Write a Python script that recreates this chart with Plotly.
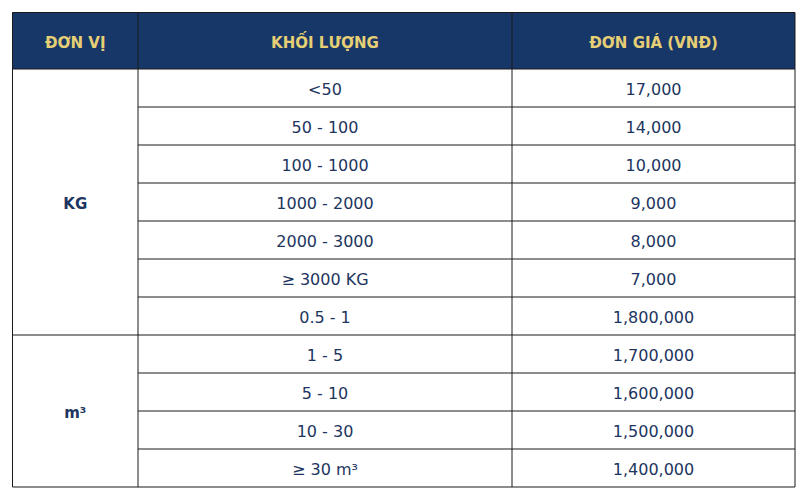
import plotly.graph_objects as go

# table content
headers = ["ĐƠN VỊ", "KHỐI LƯỢNG", "ĐƠN GIÁ (VNĐ)"]
units = ["KG", "m³"]
unit_rows = [7, 4]
weights = ["<50", "50 - 100", "100 - 1000", "1000 - 2000", "2000 - 3000",
           "≥ 3000 KG", "0.5 - 1", "1 - 5", "5 - 10", "10 - 30", "≥ 30 m³"]
prices = [17000, 14000, 10000, 9000, 8000, 7000,
          1800000, 1700000, 1600000, 1500000, 1400000]

# geometry in pixels
W, H = 806, 500
off = 8  # page body margin
col_edges = [12.5, 138, 512, 795]
top = 12.5
head_h = 56.5
row_h = 38
dy = 3  # nudge text down to sit like the original

navy = "#173768"
gold = "#e6cf74"
ink = "#1d3560"
border = "#1a1a1a"
font = "Verdana, DejaVu Sans, sans-serif"

body_top = top + head_h
n = len(weights)
row_edges = [body_top + i * row_h for i in range(n + 1)]
bottom = row_edges[-1]

fig = go.Figure()
shapes = []

# header background
shapes.append(dict(type="rect", x0=col_edges[0], x1=col_edges[-1], y0=top, y1=body_top,
                   fillcolor=navy, line=dict(width=0), layer="below"))

# horizontal lines: full width for group boundaries, cols 2-3 for inner rows
group_edges = [0]
for r in unit_rows:
    group_edges.append(group_edges[-1] + r)
for i, y in enumerate(row_edges):
    x0 = col_edges[0] if i in group_edges else col_edges[1]
    shapes.append(dict(type="line", x0=x0, x1=col_edges[-1], y0=y, y1=y,
                       line=dict(color=border, width=1)))
shapes.append(dict(type="line", x0=col_edges[0], x1=col_edges[-1], y0=top, y1=top,
                   line=dict(color=border, width=1)))
# vertical lines
for x in col_edges:
    shapes.append(dict(type="line", x0=x, x1=x, y0=top, y1=bottom,
                       line=dict(color=border, width=1)))

centers = [(col_edges[i] + col_edges[i + 1]) / 2 for i in range(3)]

# header text
fig.add_trace(go.Scatter(
    x=centers, y=[(top + body_top) / 2 + dy] * 3, mode="text",
    text=[f"<b>{h}</b>" for h in headers],
    textfont=dict(family=font, size=15, color=gold), hoverinfo="skip"))

# unit column (merged cells)
unit_y = [(row_edges[group_edges[i]] + row_edges[group_edges[i + 1]]) / 2 + dy
          for i in range(len(units))]
fig.add_trace(go.Scatter(
    x=[centers[0]] * len(units), y=unit_y, mode="text",
    text=[f"<b>{u}</b>" for u in units],
    textfont=dict(family=font, size=15, color=ink), hoverinfo="skip"))

# weights and prices
row_y = [(row_edges[i] + row_edges[i + 1]) / 2 + dy for i in range(n)]
fig.add_trace(go.Scatter(
    x=[centers[1]] * n, y=row_y, mode="text", text=weights,
    textfont=dict(family=font, size=16, color=ink), hoverinfo="skip"))
fig.add_trace(go.Scatter(
    x=[centers[2]] * n, y=row_y, mode="text", text=[f"{p:,}" for p in prices],
    textfont=dict(family=font, size=16, color=ink), hoverinfo="skip"))

fig.update_layout(
    width=W, height=H, margin=dict(l=0, r=0, t=0, b=0),
    paper_bgcolor="white", plot_bgcolor="white", showlegend=False,
    shapes=shapes,
    xaxis=dict(range=[off, W + off], visible=False, fixedrange=True),
    yaxis=dict(range=[H + off, off], visible=False, fixedrange=True),
)

fig.write_html("out.html")
